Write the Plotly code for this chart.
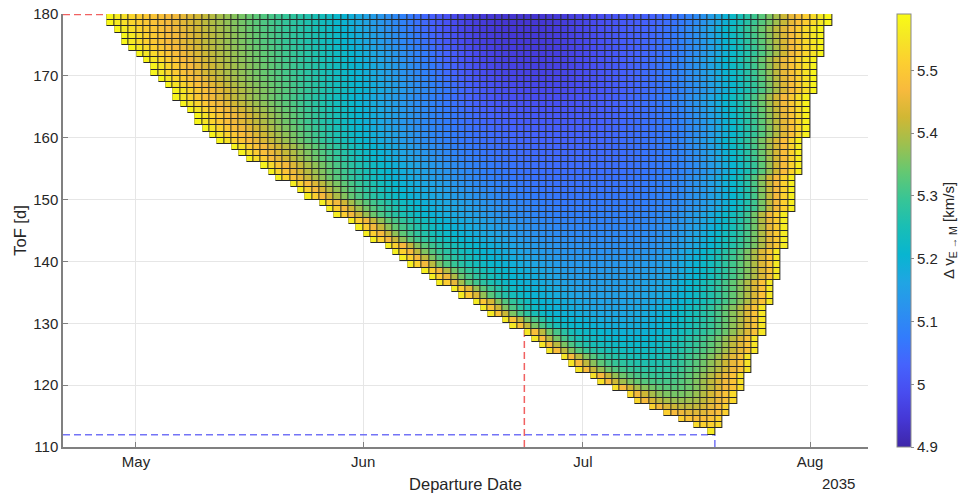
import numpy as np
import pandas as pd
import plotly.graph_objects as go

epoch = pd.Timestamp("2035-05-01")

# Boundary of plotted region: ToF [d] vs departure day (offset from 1 May 2035)
left_tof = [112.5, 113.5, 114.5, 117.3, 119.3, 123.0, 127.3, 128.5, 131.0, 133.8, 137.4,
            140.6, 150.0, 151.6, 155.9, 160.1, 164.0, 168.0, 173.4, 177.0, 179.5]
left_day = [78, 76, 74, 68.8, 65.1, 59.6, 54.2, 52.8, 49.2, 45.2, 40.1,
            36.0, 24.1, 22.1, 16.0, 10.5, 7.1, 4.2, 0.1, -2.9, -4.0]
right_tof = [112.5, 114, 116, 118, 120.5, 123.5, 126.5, 130.5, 135, 139.5, 145, 151,
             157, 163.6, 170.1, 176.2, 179.5]
right_day = [79, 80, 81, 82, 83, 84, 85, 86, 87, 88, 89, 90, 91, 92, 93, 94, 95]

# Delta-v [km/s] read across each ToF row, at relative positions between left and right edge
u_knots = [0, 0.04, 0.1, 0.2, 0.3, 0.4, 0.5, 0.6, 0.7, 0.8, 0.9, 0.96, 1.0]
tof_knots = [112, 115, 120, 130, 140, 150, 160, 170, 180]
dv_112 = [5.59, 5.58, 5.58, 5.58, 5.58, 5.58, 5.58, 5.58, 5.58, 5.58, 5.58, 5.58, 5.59]
dv_115 = [5.59, 5.53, 5.50, 5.48, 5.47, 5.46, 5.46, 5.46, 5.47, 5.48, 5.50, 5.53, 5.59]
dv_120 = [5.59, 5.52, 5.45, 5.38, 5.34, 5.32, 5.32, 5.34, 5.38, 5.43, 5.48, 5.52, 5.59]
dv_130 = [5.59, 5.49, 5.35, 5.23, 5.20, 5.18, 5.18, 5.20, 5.24, 5.30, 5.40, 5.49, 5.59]
dv_140 = [5.59, 5.49, 5.33, 5.23, 5.18, 5.14, 5.13, 5.13, 5.15, 5.22, 5.34, 5.46, 5.59]
dv_150 = [5.59, 5.46, 5.33, 5.21, 5.15, 5.10, 5.07, 5.07, 5.08, 5.13, 5.26, 5.46, 5.59]
dv_160 = [5.59, 5.50, 5.41, 5.27, 5.16, 5.08, 5.04, 5.03, 5.05, 5.10, 5.27, 5.45, 5.59]
dv_170 = [5.59, 5.50, 5.41, 5.31, 5.21, 5.10, 4.99, 4.97, 5.02, 5.10, 5.28, 5.48, 5.59]
dv_180 = [5.59, 5.52, 5.46, 5.34, 5.24, 5.10, 4.96, 4.94, 5.00, 5.08, 5.32, 5.50, 5.59]
dv_rows = [dv_112, dv_115, dv_120, dv_130, dv_140, dv_150, dv_160, dv_170, dv_180]

# Marked points
best_dep, best_tof = "2035-06-23", 180      # minimum delta-v
fast_dep, fast_tof = "2035-07-19", 112      # minimum ToF


def smooth_interp(x, xp, fp):
    """Cubic Hermite (Catmull-Rom style) through the read values."""
    xp = np.asarray(xp, float)
    fp = np.asarray(fp, float)
    n = len(xp)
    m = np.zeros(n)
    m[0] = (fp[1] - fp[0]) / (xp[1] - xp[0])
    m[-1] = (fp[-1] - fp[-2]) / (xp[-1] - xp[-2])
    for k in range(1, n - 1):
        m[k] = (fp[k + 1] - fp[k - 1]) / (xp[k + 1] - xp[k - 1])
    x = min(max(x, xp[0]), xp[-1])
    k = int(np.clip(np.searchsorted(xp, x) - 1, 0, n - 2))
    h = xp[k + 1] - xp[k]
    t = (x - xp[k]) / h
    h00 = 2 * t**3 - 3 * t**2 + 1
    h10 = t**3 - 2 * t**2 + t
    h01 = -2 * t**3 + 3 * t**2
    h11 = t**3 - t**2
    return h00 * fp[k] + h10 * h * m[k] + h01 * fp[k + 1] + h11 * h * m[k + 1]


# Grid (1-day cells)
dep_cells = np.arange(-5, 97)
tof_cells = np.arange(112, 180)

z = np.full((len(tof_cells), len(dep_cells)), np.nan)
for i, t in enumerate(tof_cells):
    tc = t + 0.5
    L = int(round(np.interp(tc, left_tof, left_day)))
    R = int(round(np.interp(tc, right_tof, right_day)))
    for j, d in enumerate(dep_cells):
        if d >= L and d + 1 <= R:
            u = (d + 0.5 - L) / max(R - L, 1)
            col = [smooth_interp(u, u_knots, r) for r in dv_rows]
            z[i, j] = smooth_interp(tc, tof_knots, col)

x_dates = [epoch + pd.Timedelta(days=float(d) + 0.5) for d in dep_cells]
y_vals = tof_cells + 0.5

# MATLAB parula colormap (sampled)
parula_rgb = [(62, 38, 168), (69, 55, 213), (72, 77, 240), (69, 99, 253), (50, 124, 252),
              (43, 145, 239), (32, 165, 227), (8, 181, 208), (25, 190, 181), (55, 197, 150),
              (100, 200, 114), (157, 192, 79), (209, 183, 52), (248, 186, 61), (252, 207, 48),
              (245, 233, 36), (249, 251, 21)]
parula_pos = [0, 4, 8, 12, 16, 20, 24, 28, 32, 36, 40, 44, 48, 52, 56, 60, 63]
parula = [[p / 63, "rgb(%d,%d,%d)" % c] for p, c in zip(parula_pos, parula_rgb)]

fig = go.Figure()
mask = np.where(np.isnan(z), np.nan, 1.0)
fig.add_trace(go.Heatmap(x=x_dates, y=y_vals, z=mask, colorscale=[[0, "#262626"], [1, "#262626"]],
                         xgap=0.01, ygap=0.01, showscale=False, hoverinfo="skip"))
fig.add_trace(go.Heatmap(
    x=x_dates, y=y_vals, z=z, colorscale=parula, zmin=4.9, zmax=5.59, xgap=1, ygap=1,
    colorbar=dict(
        x=1.036, xanchor="left", xpad=0, y=0.5, yanchor="middle", ypad=0, len=1, thickness=14,
        outlinewidth=1, outlinecolor="#8a8a8a",
        tickvals=[4.9, 5.0, 5.1, 5.2, 5.3, 5.4, 5.5],
        ticktext=["4.9", "5", "5.1", "5.2", "5.3", "5.4", "5.5"],
        ticks="outside", ticklen=3, tickcolor="#8a8a8a",
        tickfont=dict(size=15, color="#262626"),
        title=dict(text="Δ v<sub>E → M</sub> [km/s]", side="right", font=dict(size=15, color="#262626")),
    ),
))

red = "rgba(240,80,80,0.9)"
blue = "rgba(100,100,245,0.9)"
xmin = epoch - pd.Timedelta(days=9.96)
xmax = epoch + pd.Timedelta(days=99.9)
dash = "7px,4px"
shapes = [
    dict(type="line", xref="x", yref="y", x0=xmin, x1=best_dep, y0=best_tof, y1=best_tof,
         line=dict(color=red, width=2.5, dash=dash), layer="between"),
    dict(type="line", xref="x", yref="y", x0=best_dep, x1=best_dep, y0=110, y1=best_tof,
         line=dict(color=red, width=1.5, dash=dash), layer="between"),
    dict(type="line", xref="x", yref="y", x0=xmin, x1=fast_dep, y0=fast_tof, y1=fast_tof,
         line=dict(color=blue, width=1.5, dash=dash), layer="between"),
    dict(type="line", xref="x", yref="y", x0=fast_dep, x1=fast_dep, y0=110, y1=fast_tof,
         line=dict(color=blue, width=1.5, dash=dash), layer="between"),
]

month_ticks = ["2035-05-01", "2035-06-01", "2035-07-01", "2035-08-01"]
month_labels = ["May", "Jun", "Jul", "Aug"]

fig.update_layout(
    width=958, height=495,
    margin=dict(l=63, r=90, t=14, b=48, autoexpand=False),
    plot_bgcolor="white", paper_bgcolor="white",
    font=dict(family="Liberation Sans, Arial, sans-serif", size=15, color="#262626"),
    shapes=shapes,
    xaxis=dict(type="date", range=[xmin, xmax], tickvals=month_ticks, ticktext=month_labels,
               ticks="inside", ticklen=5, tickcolor="#808080", showgrid=True, gridcolor="#e6e6e6",
               showline=True, linecolor="#808080", linewidth=1.5, zeroline=False,
               title=dict(text="Departure Date", font=dict(size=16.5), standoff=10)),
    yaxis=dict(range=[110, 180], tick0=110, dtick=10, ticks="inside", ticklen=5, tickcolor="#808080",
               showgrid=True, gridcolor="#e6e6e6", showline=True, linecolor="#808080", linewidth=1.5,
               zeroline=False, title=dict(text="ToF [d]", font=dict(size=16.5), standoff=2)),
    annotations=[dict(text="2035", xref="paper", yref="paper", x=0.986, y=0, xanchor="right",
                      yanchor="top", yshift=-26, showarrow=False, font=dict(size=15))],
)

fig.write_html("out.html")
